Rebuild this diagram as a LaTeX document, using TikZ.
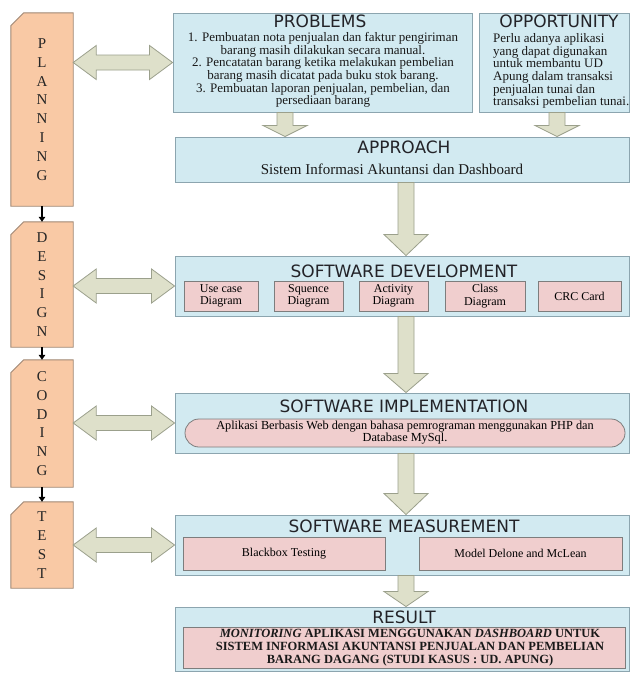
\documentclass[tikz,border=0pt]{standalone}
\usepackage{fontspec}
\setmainfont{Liberation Serif}
\newfontfamily\ttlfont{DejaVu Sans}
\usetikzlibrary{calc,arrows.meta}

\definecolor{bluefill}{RGB}{210,234,241}
\definecolor{blueline}{RGB}{140,165,175}
\definecolor{orangefill}{RGB}{249,201,165}
\definecolor{orangeline}{RGB}{160,135,115}
\definecolor{pinkfill}{RGB}{240,206,206}
\definecolor{pinkline}{RGB}{125,125,125}
\definecolor{arrowfill}{RGB}{222,224,202}
\definecolor{arrowline}{RGB}{155,160,140}
\definecolor{ttlcolor}{RGB}{35,35,40}

\newcommand\blockdown[3]{%
  \path[blockarrow] let \p1=(#1), \p2=(#2) in
   (\x1-8pt,\y1) -- (\x1+8pt,\y1) -- (\x1+8pt,\y2+#3) -- (\x1+22pt,\y2+#3) --
   (\x1,\y2) -- (\x1-22pt,\y2+#3) -- (\x1-8pt,\y2+#3) -- cycle;}
\newcommand\blockdouble[2]{%
  \path[blockarrow] let \p1=(#1), \p2=(#2) in
   (\x1,\y2) -- (\x1+23pt,\y2+17pt) -- (\x1+23pt,\y2+7.5pt) -- (\x2-23pt,\y2+7.5pt) --
   (\x2-23pt,\y2+17pt) -- (\x2,\y2) -- (\x2-23pt,\y2-17pt) -- (\x2-23pt,\y2-7.5pt) --
   (\x1+23pt,\y2-7.5pt) -- (\x1+23pt,\y2-17pt) -- cycle;}
\newcommand\phaseoutline[1]{%
  \draw[phaseshape] (#1.south west) -- ([yshift=-13pt]#1.north west) -- ([xshift=13pt]#1.north west)
    -- (#1.north east) -- (#1.south east) -- cycle;}

\begin{document}
\begin{tikzpicture}[x=1pt,y=-1pt,
  mainbox/.style={draw=blueline, fill=bluefill, line width=0.9pt, inner sep=0pt, minimum width=454},
  subbox/.style={draw=pinkline, fill=pinkfill, line width=0.8pt, inner sep=0pt, align=center,
     font=\fontsize{12}{12.5}\selectfont},
  ttl/.style={font=\ttlfont\fontsize{17}{20}\selectfont, text=ttlcolor, inner sep=0pt},
  bodytext/.style={inner sep=0pt, text=black!90},
  phase/.style={inner sep=0pt, minimum width=62},
  phaseshape/.style={draw=orangeline, fill=orangefill, line width=0.9pt},
  phasetext/.style={inner sep=0pt, align=center, font=\fontsize{15}{18.8}\selectfont, text=black!85},
  blockarrow/.style={draw=arrowline, fill=arrowfill, line width=0.8pt, line join=miter},
  flowarrow/.style={-{Triangle[length=5pt,width=6.5pt]}, line width=1.3pt, black}
]
\fill[white] (0,0) rectangle (632,675);
\useasboundingbox (0,0) rectangle (632,675);

% ---------- main boxes ----------
\node[mainbox, minimum width=299, minimum height=99] (prob) at (322.5,62.5) {};
\node[mainbox, minimum width=150, minimum height=99] (opp) at (554,62.5) {};
\node[mainbox, minimum height=45] (appr) at (402,159.5) {};
\node[mainbox, minimum height=60] (sd) at (402,286) {};
\node[mainbox, minimum height=60] (si) at (402,423) {};
\node[mainbox, minimum height=60] (sm) at (402,545) {};
\node[mainbox, minimum height=64] (res) at (402,639) {};

% titles
\node[ttl] (probT) at (320,21.5) {PROBLEMS};
\node[ttl] (oppT) at (559,21) {OPPORTUNITY};
\node[ttl] (apprT) at (404,147) {APPROACH};
\node[ttl] (sdT) at (404,271) {SOFTWARE DEVELOPMENT};
\node[ttl] (siT) at (404,406) {SOFTWARE IMPLEMENTATION};
\node[ttl] (smT) at (404,526) {SOFTWARE MEASUREMENT};
\node[ttl] (resT) at (404,617) {RESULT};

% problem text
\node[bodytext, align=center, font=\fontsize{13}{12.6}\selectfont] (probL) at (323,70)
 {1. Pembuatan nota penjualan dan faktur pengiriman\\
  barang masih dilakukan secara manual.\\
  2. Pencatatan barang ketika melakukan pembelian\\
  barang masih dicatat pada buku stok barang.\\
  3. Pembuatan laporan penjualan, pembelian, dan\\
  persediaan barang};
\node[bodytext, align=left, anchor=west, font=\fontsize{13}{12.7}\selectfont] (oppL) at (493,71)
 {Perlu adanya aplikasi\\
  yang dapat digunakan\\
  untuk membantu UD\\
  Apung dalam transaksi\\
  penjualan tunai dan\\
  transaksi pembelian tunai.};
\node[bodytext, font=\fontsize{15}{17}\selectfont] (apprL) at (392,169)
 {Sistem Informasi Akuntansi dan Dashboard};

% software development sub boxes
\node[subbox, minimum width=74, minimum height=30] (uc) at (221,296) {Use case\\Diagram};
\node[subbox, minimum width=69, minimum height=30] (sq) at (308.5,296) {Squence\\Diagram};
\node[subbox, minimum width=69, minimum height=30] (ac) at (393.5,296) {Activity\\Diagram};
\node[subbox, minimum width=80, minimum height=30] (cl) at (485,296) {Class\\Diagram};
\node[subbox, minimum width=83, minimum height=30] (crc) at (579.5,296) {CRC Card};

% implementation pill
\node[subbox, minimum width=440, minimum height=28, rounded corners=14pt,
      font=\fontsize{12.3}{12}\selectfont] (pill) at (405,433)
 {Aplikasi Berbasis Web dengan bahasa pemrograman menggunakan PHP dan\\Database MySql.};

% measurement sub boxes
\node[subbox, minimum width=202, minimum height=33] (bb) at (284,553.5) {Blackbox Testing};
\node[subbox, minimum width=203, minimum height=33] (dm) at (520.5,553.5) {Model Delone and McLean};

% result inner
\node[subbox, minimum width=442, minimum height=41] (resI) at (404,647.5) {};
\node[bodytext, align=center, font=\bfseries\fontsize{12.5}{13}\selectfont] (resL) at (410,648)
 {\textit{MONITORING} APLIKASI MENGGUNAKAN \textit{DASHBOARD} UNTUK\\
  SISTEM INFORMASI AKUNTANSI PENJUALAN DAN PEMBELIAN\\
  BARANG DAGANG (STUDI KASUS : UD. APUNG)};

% ---------- phase boxes ----------
\node[phase, minimum height=193] (plan) at (42,109.5) {};
\node[phase, minimum height=125] (des) at (42,284.5) {};
\node[phase, minimum height=127] (cod) at (42,423.5) {};
\node[phase, minimum height=86] (tst) at (42,545) {};
\phaseoutline{plan}
\phaseoutline{des}
\phaseoutline{cod}
\phaseoutline{tst}
\node[phasetext] (planT) at (plan.center) {P\\L\\A\\N\\N\\I\\N\\G};
\node[phasetext] (desT) at (des.center) {D\\E\\S\\I\\G\\N};
\node[phasetext] (codT) at (cod.center) {C\\O\\D\\I\\N\\G};
\node[phasetext] (tstT) at (tst.center) {T\\E\\S\\T};

\draw[flowarrow] (plan.south) -- (des.north);
\draw[flowarrow] (des.south) -- (cod.north);
\draw[flowarrow] (cod.south) -- (tst.north);

% ---------- block arrows ----------
\coordinate (pa) at ([xshift=-37.5pt]prob.south);
\coordinate (oa) at ([xshift=3pt]opp.south);
\coordinate (aa) at ([xshift=4pt]appr.south);
\coordinate (da) at ([xshift=4pt]sd.south);
\coordinate (ia) at ([xshift=4pt]si.south);
\coordinate (ma) at ([xshift=4pt]sm.south);
\blockdown{pa}{pa |- appr.north}{11pt}
\blockdown{oa}{oa |- appr.north}{11pt}
\blockdown{aa}{aa |- sd.north}{21pt}
\blockdown{da}{da |- si.north}{19pt}
\blockdown{ia}{ia |- sm.north}{21pt}
\blockdown{ma}{ma |- res.north}{15pt}

\blockdouble{plan.east}{prob.west}
\blockdouble{des.east}{sd.west}
\blockdouble{cod.east}{si.west}
\blockdouble{tst.east}{sm.west}
\end{tikzpicture}
\end{document}
